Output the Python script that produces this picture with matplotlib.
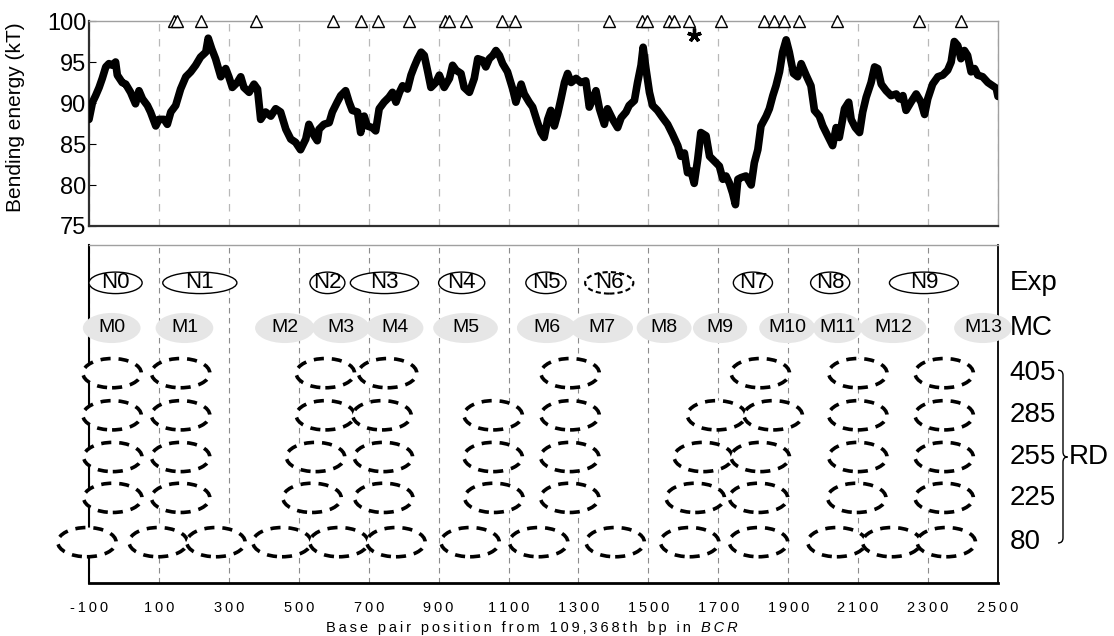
import matplotlib.pyplot as plt
from matplotlib.patches import Ellipse, PathPatch
from matplotlib.path import Path

plt.rcParams['font.family'] = ['Liberation Sans', 'DejaVu Sans']

# bending energy trace (bp position, kT)
pos = [
    -100, -90, -81, -71, -62, -52, -43, -33, -24, -19,
    -5, 5, 19, 33, 43, 53, 67, 76, 91, 100,
    115, 124, 134, 148, 162, 177, 191, 205, 219, 234,
    241, 251, 262, 277, 291, 300, 310, 324, 334, 343,
    358, 372, 382, 391, 405, 420, 434, 448, 463, 477,
    491, 505, 520, 529, 544, 553, 558, 572, 587, 596,
    610, 620, 634, 644, 653, 668, 677, 687, 696, 710,
    720, 730, 744, 758, 768,
    778, 788, 797, 811, 821, 830, 840, 850, 859, 869,
    878, 892, 902, 916, 931, 940, 950, 964, 973, 988,
    1002, 1012, 1026, 1035, 1045, 1055, 1064, 1074, 1083, 1097,
    1112, 1121, 1136, 1145, 1159, 1169, 1183, 1193, 1202, 1212,
    1221, 1231, 1240, 1250, 1260, 1269, 1279, 1293, 1307, 1321,
    1331, 1341, 1350, 1360, 1374, 1383, 1398, 1412, 1422, 1436,
    1445, 1460, 1469, 1479, 1485, 1493, 1503, 1512, 1526, 1541,
    1555, 1569, 1584, 1593, 1603, 1612, 1622, 1631, 1641, 1650,
    1665, 1675, 1689, 1703, 1713, 1722, 1732, 1741, 1749, 1756,
    1765, 1779, 1794, 1803, 1813, 1822, 1837, 1846, 1856, 1865,
    1875, 1884, 1894, 1903, 1915, 1927, 1937, 1951, 1965, 1975,
    1989, 1999, 2013, 2027, 2037, 2046, 2061, 2073, 2080, 2092,
    2104, 2113, 2123, 2137, 2147, 2156, 2166, 2180, 2194, 2209,
    2218, 2228, 2237, 2251, 2266, 2280, 2290, 2299, 2313, 2328,
    2342, 2356, 2366, 2375, 2385, 2394, 2404, 2413, 2423, 2433,
    2442, 2456, 2471, 2485, 2495, 2500,
]
energy = [
    88.0, 90.1, 90.9, 91.9, 93.0, 94.4, 94.8, 94.6, 95.0, 93.4,
    92.5, 92.3, 91.3, 89.9, 91.5, 90.5, 89.7, 88.9, 87.2, 88.0,
    88.0, 87.4, 88.9, 89.7, 91.7, 93.2, 93.8, 94.6, 95.6, 96.2,
    97.9, 96.6, 95.4, 93.2, 94.2, 93.2, 91.9, 92.5, 93.2, 91.9,
    91.3, 92.3, 91.7, 88.0, 88.9, 88.4, 89.3, 88.9, 86.8, 85.6,
    85.2, 84.3, 85.6, 87.4, 86.0, 85.4, 86.8, 87.4, 87.6, 88.9,
    90.1, 90.9, 91.5, 90.1, 89.1, 88.9, 86.4, 88.4, 87.2, 87.0,
    86.6, 89.3, 90.1, 90.7, 91.3,
    90.1, 91.3, 92.1, 91.7, 93.4, 94.4, 95.4, 96.2, 95.8, 93.8,
    91.9, 92.5, 93.4, 91.9, 93.0, 94.6, 94.0, 93.6, 91.9, 91.3,
    93.0, 95.4, 95.2, 94.4, 95.4, 95.8, 96.4, 95.8, 94.8, 93.8,
    91.7, 90.1, 92.3, 91.1, 90.1, 89.5, 87.6, 86.4, 85.8, 88.0,
    89.1, 87.2, 88.6, 90.5, 92.5, 93.6, 92.5, 93.0, 92.5, 92.7,
    89.5, 90.5, 91.5, 89.3, 87.4, 89.3, 88.0, 87.0, 88.2, 88.9,
    89.7, 90.3, 92.5, 94.6, 96.8, 94.2, 91.3, 89.7, 89.1, 88.2,
    87.4, 86.2, 84.8, 83.5, 83.9, 81.5, 81.7, 80.2, 83.1, 86.4,
    86.0, 83.5, 82.9, 82.3, 80.7, 81.1, 80.2, 79.0, 77.6, 80.7,
    80.9, 81.1, 80.0, 82.7, 84.3, 87.2, 88.4, 89.3, 90.9, 92.1,
    93.8, 96.2, 97.7, 96.2, 93.6, 93.2, 94.8, 93.4, 92.1, 89.1,
    88.4, 87.2, 86.0, 84.8, 87.0, 85.8, 89.3, 90.1, 88.0, 87.0,
    86.4, 88.9, 90.7, 92.5, 94.4, 94.2, 92.3, 91.5, 90.9, 91.1,
    90.5, 90.9, 89.1, 90.1, 91.1, 90.1, 88.6, 90.5, 92.3, 93.2,
    93.4, 94.0, 95.0, 97.5, 97.0, 95.4, 96.4, 95.8, 93.8, 94.2,
    93.4, 93.2, 92.5, 92.1, 91.8, 90.8,
]

# open triangles on top of the energy panel, and the asterisk
tri_pos = [143, 153, 219, 379, 598, 677, 728, 816, 919, 931, 978, 1081, 1119,
           1386, 1482, 1495, 1558, 1572, 1615, 1708, 1832, 1860, 1889, 1932,
           2039, 2275, 2394]
star_pos = 1631
star_val = 98.3

# lower panel: nucleosome positions (bp centre, width)
exp_labels = ['N0', 'N1', 'N2', 'N3', 'N4', 'N5', 'N6', 'N7', 'N8', 'N9']
exp_center = [-24, 217, 582, 745, 966, 1207, 1388, 1799, 2020, 2288]
exp_width = [152, 212, 100, 195, 132, 115, 138, 112, 112, 197]
exp_dashed = ['N6']

mc_labels = ['M0', 'M1', 'M2', 'M3', 'M4', 'M5', 'M6', 'M7', 'M8', 'M9',
             'M10', 'M11', 'M12', 'M13']
mc_center = [-35, 173, 460, 621, 774, 977, 1209, 1366, 1545, 1705, 1897,
             2041, 2200, 2457]
mc_width = [165, 165, 170, 165, 165, 185, 170, 180, 157, 155, 160, 140, 190, 165]

rd_rows = ['405', '285', '255', '225', '80']
rd_405 = [-34, 162, 576, 754, 1276, 1820, 2099, 2346]
rd_285 = [-34, 162, 576, 738, 1056, 1276, 1695, 1857, 2099, 2346]
rd_255 = [-32, 162, 548, 742, 1056, 1275, 1657, 1820, 2099, 2346]
rd_225 = [-32, 162, 538, 743, 1058, 1275, 1634, 1815, 2096, 2346]
rd_80 = [-106, 98, 263, 452, 615, 778, 990, 1186, 1405, 1618, 1815, 2039,
         2196, 2352]
rd_width = 167

row_names = ['Exp', 'MC', '405', '285', '255', '225', '80']
row_y = [6.98, 5.93, 4.88, 3.90, 2.93, 1.98, 0.95]

xticks = list(range(-100, 2501, 200))

TS = '\u2009'


def spaced(s):
    return TS.join(s)


W, H = 1114, 636
fig = plt.figure(figsize=(W / 100, H / 100), dpi=100)
ax1 = fig.add_axes([89 / W, 1 - 226 / H, 909 / W, 205 / H])
ax2 = fig.add_axes([89 / W, 53 / H, 909 / W, 338 / H])

# ---- top: bending energy ----
ax1.plot(pos, energy, color='black', lw=5.5, solid_joinstyle='round',
         solid_capstyle='round', zorder=3)
ax1.plot(tri_pos, [100] * len(tri_pos), ls='none', marker='^', ms=8.5,
         mfc='white', mec='black', mew=1, clip_on=False, zorder=5)
ax1.plot([star_pos], [star_val], ls='none', marker=(5, 2, 0), ms=10, mew=2.4,
         color='black', zorder=5)
ax1.set_xlim(-100, 2500)
ax1.set_ylim(75, 100)
ax1.set_xticks(xticks)
ax1.tick_params(axis='x', length=0, labelbottom=False)
ax1.set_yticks(range(75, 101, 5))
ax1.tick_params(axis='y', direction='in', length=5, labelsize=17, pad=2)
ax1.grid(axis='x', color='#b8b8b8', lw=0.9, ls=(0, (6, 6)))
ax1.set_axisbelow(True)
for s in ['left', 'bottom']:
    ax1.spines[s].set_color('#303030')
    ax1.spines[s].set_linewidth(1.6)
for s in ['top', 'right']:
    ax1.spines[s].set_color('#a0a0a0')
    ax1.spines[s].set_linewidth(1.0)
ax1.set_ylabel('Bending energy (kT)', fontsize=15)
ax1.yaxis.set_label_coords(-0.07, 0.53)

# ---- bottom: nucleosome maps ----
ax2.set_xlim(-100, 2500)
ax2.set_ylim(0, 7.86)
ax2.set_xticks(xticks)
ax2.set_xticklabels([spaced(str(v)) for v in xticks])
ax2.tick_params(axis='x', length=0, labelsize=10.5, pad=13)
ax2.set_yticks([])
ax2.grid(axis='x', color='#8c8c8c', lw=0.8, ls=(0, (5, 4)))
ax2.set_axisbelow(True)
ax2.spines['left'].set_linewidth(1.5)
ax2.spines['bottom'].set_linewidth(2.0)
ax2.spines['right'].set_linewidth(1.3)
ax2.spines['top'].set_color('#a0a0a0')
ax2.spines['top'].set_linewidth(1.0)

y_exp = row_y[0]
for lab, c, w in zip(exp_labels, exp_center, exp_width):
    ls = (0, (2.5, 1.5)) if lab in exp_dashed else '-'
    lw = 1.5 if lab in exp_dashed else 1.0
    ax2.add_patch(Ellipse((c, y_exp), w, 0.5, fc='white', ec='black', lw=lw,
                          ls=ls, zorder=3, clip_on=False))
    ax2.text(c, y_exp, lab, fontsize=16, ha='center', va='center', zorder=4)

y_mc = row_y[1]
for lab, c, w in zip(mc_labels, mc_center, mc_width):
    ax2.add_patch(Ellipse((c, y_mc), w, 0.7, fc='#e6e6e6', ec='none',
                          zorder=3, clip_on=False))
for lab, c in zip(mc_labels, mc_center):
    ax2.text(c, y_mc, lab, fontsize=14, ha='center', va='center', zorder=4)

for centers, y in zip([rd_405, rd_285, rd_255, rd_225, rd_80], row_y[2:]):
    for c in centers:
        ax2.add_patch(Ellipse((c, y), rd_width, 0.68, fc='white', ec='black',
                              lw=2.6, ls=(0, (2.8, 2.2)), zorder=3,
                              clip_on=False))

tr = ax2.get_yaxis_transform()
for name, y in zip(row_names, row_y):
    ax2.text(1.013, y, name, transform=tr, fontsize=20, ha='left',
             va='center')

# curly brace grouping the RD rows
top, mid, bot = row_y[2] + 0.07, row_y[4], row_y[6] - 0.02
x0, x1, x2 = 1.066, 1.0715, 1.0765
verts = [(x0, top), (x1, top), (x1, top - 0.12),
         (x1, mid + 0.12),
         (x1, mid), (x2, mid),
         (x1, mid), (x1, mid - 0.12),
         (x1, bot + 0.12),
         (x1, bot), (x0, bot)]
codes = [Path.MOVETO, Path.CURVE3, Path.CURVE3,
         Path.LINETO,
         Path.CURVE3, Path.CURVE3,
         Path.CURVE3, Path.CURVE3,
         Path.LINETO,
         Path.CURVE3, Path.CURVE3]
ax2.add_patch(PathPatch(Path(verts, codes), transform=tr, fill=False,
                        lw=1.0, ec='black', clip_on=False))
ax2.text(1.078, mid, 'RD', transform=tr, fontsize=20, ha='left',
         va='center')

# x axis title with letter spacing, BCR in italics
words = ['Base', 'pair', 'position', 'from', '109,368th', 'bp', 'in', '']
label = (TS + ' ' + TS).join(spaced(w) for w in words)
t1 = fig.text(326 / W, 1 - 632 / H, label, fontsize=10.5, ha='left',
              va='baseline')
ax2.annotate(spaced('BCR'), xy=(1, 0), xycoords=t1, fontsize=10.5,
             style='italic', ha='left', va='bottom')

fig.savefig('out.png', dpi=100)
